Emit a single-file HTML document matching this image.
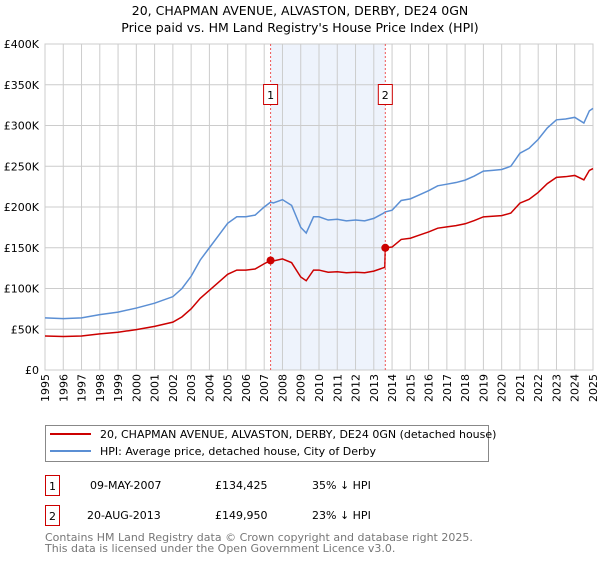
<!DOCTYPE html>
<html><head><meta charset="utf-8"><style>
body{margin:0;background:#fff;font-family:"DejaVu Sans","Liberation Sans",sans-serif;}
svg text{font-family:"DejaVu Sans","Liberation Sans",sans-serif;}
</style></head><body>
<svg id="c" width="600" height="560" xmlns="http://www.w3.org/2000/svg">
<text x="300" y="15" text-anchor="middle" font-size="12.5">20, CHAPMAN AVENUE, ALVASTON, DERBY, DE24 0GN</text>
<text x="300" y="32" text-anchor="middle" font-size="12.5">Price paid vs. HM Land Registry's House Price Index (HPI)</text>
<g id="grid"></g><g id="marks"></g>
<g>
<rect x="45.5" y="425.5" width="443" height="36" fill="#fff" stroke="#888"/>
<line x1="50" y1="434" x2="91" y2="434" stroke="#cc0000" stroke-width="2"/>
<text x="100" y="438" font-size="11">20, CHAPMAN AVENUE, ALVASTON, DERBY, DE24 0GN (detached house)</text>
<line x1="50" y1="451" x2="91" y2="451" stroke="#5b8fd4" stroke-width="2"/>
<text x="100" y="455" font-size="11">HPI: Average price, detached house, City of Derby</text>
</g>
<g font-size="11">
<rect x="45.5" y="475.5" width="14" height="20" fill="#fff" stroke="#cc0000"/><text x="52.5" y="490" text-anchor="middle">1</text>
<text x="90" y="489">09-MAY-2007</text><text x="215" y="489">£134,425</text><text x="312" y="489">35% ↓ HPI</text>
<rect x="45.5" y="505.5" width="14" height="20" fill="#fff" stroke="#cc0000"/><text x="52.5" y="520" text-anchor="middle">2</text>
<text x="87" y="519">20-AUG-2013</text><text x="215" y="519">£149,950</text><text x="312" y="519">23% ↓ HPI</text>
</g>
<text x="45" y="541" font-size="11" fill="#777">Contains HM Land Registry data © Crown copyright and database right 2025.</text>
<text x="45" y="552" font-size="11" fill="#777">This data is licensed under the Open Government Licence v3.0.</text>
</svg>
<script>
const hpiT=[1995,1996,1997,1998,1999,2000,2001,2002,2002.5,2003,2003.5,2004,2004.5,2005,2005.5,2006,2006.5,2007,2007.35,2007.5,2008,2008.5,2009,2009.3,2009.7,2010,2010.5,2011,2011.5,2012,2012.5,2013,2013.5,2013.63,2014,2014.5,2015,2015.5,2016,2016.5,2017,2017.5,2018,2018.5,2019,2019.5,2020,2020.5,2021,2021.5,2022,2022.5,2023,2023.5,2024,2024.5,2024.8,2025];
const hpiV=[64,63,64,68,71,76,82,90,100,115,135,150,165,180,188,188,190,200,206,205,209,202,175,168,188,188,184,185,183,184,183,186,192,194,196,208,210,215,220,226,228,230,233,238,244,245,246,250,266,272,283,297,307,308,310,303,318,321];
const redT=[1995,1996,1997,1998,1999,2000,2001,2002,2002.5,2003,2003.5,2004,2004.5,2005,2005.5,2006,2006.5,2007,2007.35,2007.5,2008,2008.5,2009,2009.3,2009.7,2010,2010.5,2011,2011.5,2012,2012.5,2013,2013.5,2013.6,2013.63,2014,2014.5,2015,2015.5,2016,2016.5,2017,2017.5,2018,2018.5,2019,2019.5,2020,2020.5,2021,2021.5,2022,2022.5,2023,2023.5,2024,2024.5,2024.8,2025];
const redV=[41.7,41.1,41.7,44.3,46.3,49.6,53.5,58.7,65.2,75,88,97.8,107.6,117.4,122.6,122.6,123.9,130.4,134.4,133.7,136.3,131.7,114.1,109.5,122.6,122.6,120,120.6,119.3,120,119.3,121.3,125.2,126,150,150.9,160.2,161.7,165.6,169.4,174,175.6,177.1,179.4,183.3,187.9,188.7,189.4,192.5,204.8,209.4,217.9,228.7,236.4,237.2,238.7,233.3,244.9,247.2];
const saleT=[2007.35,2013.63];
const saleV=[134.425,149.95];
const saleLabels=["1","2"];
const yTicks=[0,50,100,150,200,250,300,350,400];
const yTickLabels=["£0","£50K","£100K","£150K","£200K","£250K","£300K","£350K","£400K"];
const years=[];for(let y=1995;y<=2025;y++)years.push(y);
const L=45,R=593,T=44,B=370;
const x=t=>L+(t-1995)/30*(R-L);
const y=v=>B-v/400*(B-T);
const NS="http://www.w3.org/2000/svg";
function mk(tag,at,parent){const e=document.createElementNS(NS,tag);for(const k in at)e.setAttribute(k,at[k]);parent.appendChild(e);return e;}
const g=document.getElementById('grid'),m=document.getElementById('marks');
const shade=mk('rect',{x:x(saleT[0]),y:T,width:x(saleT[1])-x(saleT[0]),height:B-T,fill:'#eef3fc'},g);


years.forEach(yr=>{
 const l=mk('line',{x1:x(yr),x2:x(yr),y1:T,y2:B,stroke:'#ccc','stroke-width':1},g);
 
 
 const t=mk('text',{x:0,y:0,'font-size':11,'text-anchor':'end',transform:`translate(${x(yr)+4},374) rotate(-90)`},g);
 t.textContent=yr;
 
 
});
yTicks.forEach((v,i)=>{
 const l=mk('line',{x1:L,x2:R,y1:y(v),y2:y(v),stroke:'#ccc','stroke-width':1},g);
 
 
 const t=mk('text',{x:39,y:y(v)+4,'font-size':11,'text-anchor':'end'},g);
 t.textContent=yTickLabels[i];
 
 
});
const ax=mk('rect',{x:L,y:T,width:R-L,height:B-T,fill:'none',stroke:'#ccc'},g);


const hp=mk('polyline',{points:hpiT.map((t,i)=>x(t)+','+y(hpiV[i])).join(' '),fill:'none',stroke:'#5b8fd4','stroke-width':1.5},m);


const rp=mk('polyline',{points:redT.map((t,i)=>x(t)+','+y(redV[i])).join(' '),fill:'none',stroke:'#cc0000','stroke-width':1.5},m);


saleT.forEach((t,i)=>{
 const vl=mk('line',{x1:x(t),x2:x(t),y1:T,y2:B,stroke:'#e55','stroke-dasharray':'2,2','stroke-width':1},m);
 
 
 const d=mk('circle',{cx:x(t),cy:y(saleV[i]),r:4,fill:'#cc0000'},m);
 
 
 const b=mk('rect',{x:x(t)-7,y:84.5,width:14,height:20,fill:'#fff',stroke:'#cc0000'},m);
 
 
 const tx=mk('text',{x:x(t),y:99,'font-size':11,'text-anchor':'middle'},m);
 tx.textContent=saleLabels[i];
 
 
});
</script>
</body></html>
